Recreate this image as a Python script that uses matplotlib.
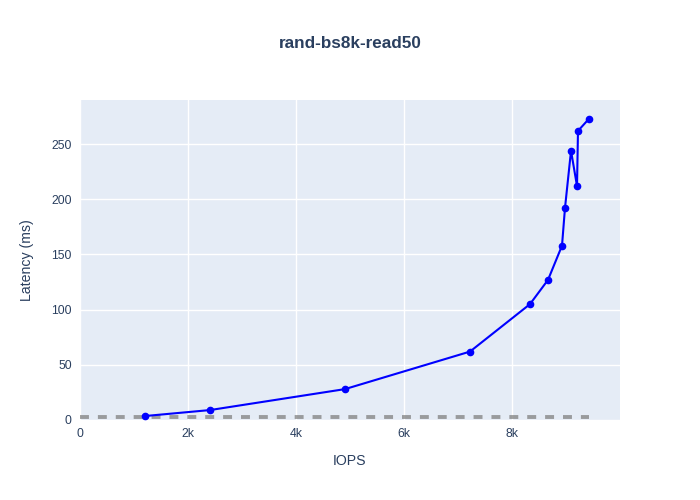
import matplotlib
matplotlib.use('Agg')
import matplotlib.pyplot as plt
from matplotlib.ticker import FuncFormatter

plt.rcParams['font.family'] = ['Liberation Sans', 'DejaVu Sans']

# measured series
iops = [1204, 2407, 4907, 7222, 8333, 8667, 8926, 8981, 9093, 9204, 9222, 9426]
latency_ms = [3.6, 9, 28, 62, 105, 127, 158, 192, 244, 212, 262, 273]

# reference (grey dashed) series
ref_iops = [0, 9426]
ref_latency = [2.4, 2.4]

x_ticks = [0, 2000, 4000, 6000, 8000]
y_ticks = [0, 50, 100, 150, 200, 250]

txt = '#2a3f5f'

fig = plt.figure(figsize=(7, 5), dpi=100)
ax = fig.add_axes([80/700, 80/500, 540/700, 320/500])
ax.set_facecolor('#E5ECF6')

ax.plot(ref_iops, ref_latency, color='grey', lw=2.8, alpha=0.75,
        linestyle=(0, (2.3, 2.3)), solid_capstyle='butt', zorder=2)
ax.plot(iops, latency_ms, color='blue', lw=1.5, marker='o', ms=4.5, zorder=3)

ax.set_xlim(0, 10000)
ax.set_ylim(0, 290)
ax.set_xticks(x_ticks)
ax.set_yticks(y_ticks)
ax.xaxis.set_major_formatter(FuncFormatter(lambda v, p: '0' if v == 0 else '%dk' % (v // 1000)))
ax.grid(True, color='white', lw=1)
ax.set_axisbelow(True)
for s in ax.spines.values():
    s.set_visible(False)
ax.tick_params(length=0, labelsize=8.8, colors=txt, pad=6)

ax.set_xlabel('IOPS', fontsize=10.2, color=txt, labelpad=10)
ax.set_ylabel('Latency (ms)', fontsize=10.2, color=txt, labelpad=12)
fig.text(0.5, 1 - 44/500, 'rand-bs8k-read50', ha='center', va='center',
         fontsize=12.3, fontweight='bold', color=txt)

fig.savefig('out.png', dpi=100)
